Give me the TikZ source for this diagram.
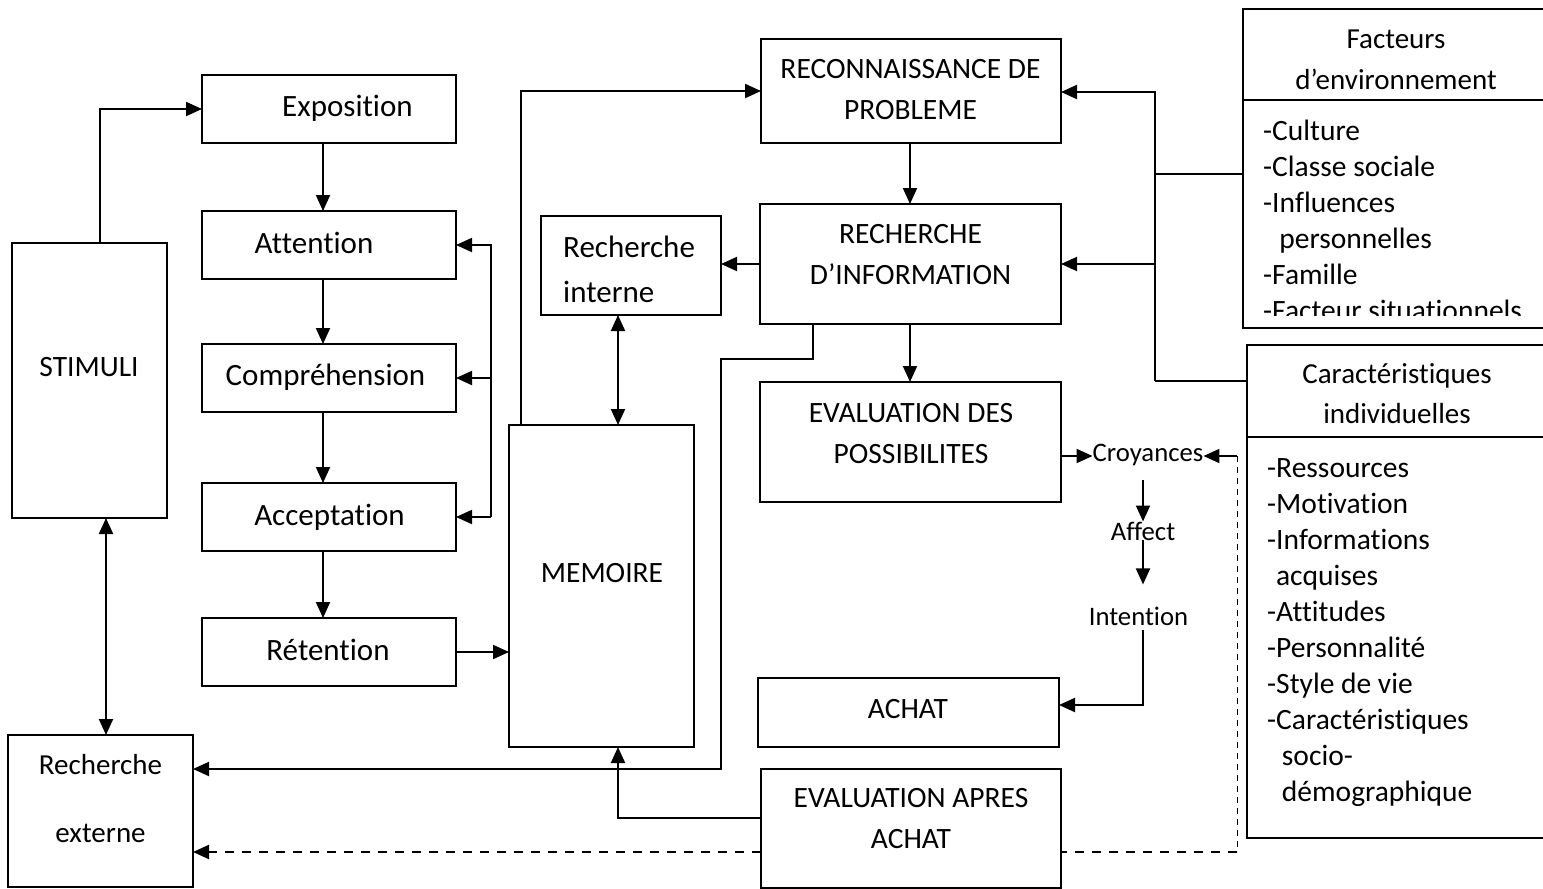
\documentclass[tikz,border=0pt]{standalone}
\usepackage{fontspec}
\setmainfont{Carlito}[Ligatures=NoCommon]
\usetikzlibrary{arrows.meta,backgrounds}
\newcommand{\FontBig}{\fontsize{31}{41}\selectfont}
\newcommand{\FontCap}{\fontsize{29.5}{41}\selectfont}
\newcommand{\FontSmall}{\fontsize{26.7}{32}\selectfont}
\begin{document}
\begin{tikzpicture}[x=1pt,y=-1pt,
  box/.style={draw, line width=1.8pt, fill=white, inner sep=0pt, outer sep=0pt},
  lbl/.style={inner sep=0pt, anchor=base, font=\FontBig},
  caplbl/.style={inner sep=0pt, anchor=base, font=\FontCap},
  capml/.style={inner sep=0pt, align=center, font=\fontsize{29.5}{41}\selectfont},
  sml/.style={inner sep=0pt, anchor=base, font=\FontSmall},
  lst/.style={inner sep=0pt, anchor=west, align=left, font=\fontsize{29.5}{36}\selectfont},
  mytip/.tip={Triangle[length=16pt,width=14pt]},
  arr/.style={line width=2pt, -mytip},
  arrr/.style={line width=2pt, mytip-mytip},
  conn/.style={line width=2pt},
]
\useasboundingbox (0,0) rectangle (1543,889);

% ---------- boxes ----------
\node[box, minimum width=254pt, minimum height=68pt] (expo) at (329,109) {};
\node[box, minimum width=254pt, minimum height=68pt] (att)  at (329,245) {};
\node[box, minimum width=254pt, minimum height=68pt] (comp) at (329,378) {};
\node[box, minimum width=254pt, minimum height=68pt] (acc)  at (329,517) {};
\node[box, minimum width=254pt, minimum height=68pt] (ret)  at (329,652) {};
\node[box, minimum width=155pt, minimum height=275pt] (stim) at (89.5,380.5) {};
\node[box, minimum width=185pt, minimum height=152pt] (rext) at (100.5,811) {};
\node[box, minimum width=185pt, minimum height=322pt] (mem) at (601.5,586) {};
\node[box, minimum width=180pt, minimum height=99pt] (rint) at (631,265.5) {};
\node[box, minimum width=300pt, minimum height=104pt] (recon) at (911,91) {};
\node[box, minimum width=301pt, minimum height=120pt] (rech) at (910.5,264) {};
\node[box, minimum width=301pt, minimum height=120pt] (evald) at (910.5,442) {};
\node[box, minimum width=301pt, minimum height=69pt] (achat) at (908.5,712.5) {};
\node[box, minimum width=300pt, minimum height=119pt] (evala) at (911,828.5) {};
\node[box, minimum width=303pt, minimum height=319pt] (fact) at (1394.5,168.5) {};
\node[box, minimum width=299pt, minimum height=493pt] (cara) at (1396.5,591.5) {};
\draw[line width=1.8pt] (fact.west |- 0,100) -- (fact.east |- 0,100);
\draw[line width=1.8pt] (cara.west |- 0,437) -- (cara.east |- 0,437);

% ---------- texts ----------
\node[lbl] (expoT) at (347.5,116) {Exposition};
\node[lbl] (attT)  at (314,253) {Attention};
\node[lbl] (compT) at (325.5,385) {Compréhension};
\node[lbl] (accT)  at (329.5,525) {Acceptation};
\node[lbl] (retT)  at (328,660) {Rétention};
\node[caplbl] (stimT) at (89,376) {STIMULI};
\node[caplbl] (memT)  at (602,582) {MEMOIRE};
\node[caplbl] (achatT) at (908,718) {ACHAT};
\node[inner sep=0pt, anchor=west, align=left, font=\fontsize{31}{45}\selectfont] (rintT) at (563,270.5) {\strut Recherche\\\strut interne};
\node[inner sep=0pt, align=center, font=\fontsize{29}{68}\selectfont] (rextT) at (100.5,794.4) {\strut Recherche\\\strut externe};
\node[capml] (reconT) at (910.5,90.3) {\strut RECONNAISSANCE DE\\\strut PROBLEME};
\node[capml] (rechT) at (910.5,255.3) {\strut RECHERCHE\\\strut D’INFORMATION};
\node[capml] (evaldT) at (911,434.3) {\strut EVALUATION DES\\\strut POSSIBILITES};
\node[capml] (evalaT) at (911,819.3) {\strut EVALUATION APRES\\\strut ACHAT};
\node[capml, font=\fontsize{29}{41}\selectfont] (factT) at (1396,60.3) {\strut Facteurs\\\strut d’environnement};
\node[capml, font=\fontsize{29}{40}\selectfont] (caraT) at (1397,395) {\strut Caractéristiques\\\strut individuelles};
\begin{scope}
  \clip (1245,101) rectangle (1545,315);
  \node[lst] (factL) at (1263,222.8) {\strut -Culture\\\strut -Classe sociale\\\strut -Influences\\\strut\hspace*{0.55em}personnelles\\\strut -Famille\\\strut -Facteur situationnels};
\end{scope}
\node[lst] (caraL) at (1267,631.8) {\strut -Ressources\\\strut -Motivation\\\strut -Informations\\\strut\hspace*{0.3em}acquises\\\strut -Attitudes\\\strut -Personnalité\\\strut -Style de vie\\\strut -Caractéristiques\\\strut\hspace*{0.5em}socio-\\\strut\hspace*{0.5em}démographique};
\node[sml] (croy) at (1148,461) {Croyances};
\node[sml] (aff)  at (1143,540) {Affect};
\node[sml] (int)  at (1138.5,625) {Intention};

% ---------- connectors ----------
\draw[arr] (stim.north -| 100,0) |- (expo.west);
\draw[arr] (expo.south -| 323,0) -- (att.north -| 323,0);
\draw[arr] (att.south -| 323,0) -- (comp.north -| 323,0);
\draw[arr] (comp.south -| 323,0) -- (acc.north -| 323,0);
\draw[arr] (acc.south -| 323,0) -- (ret.north -| 323,0);
\coordinate (fbb) at (491,517);
\draw[arr] (fbb) -- (fbb |- att.east) -- (att.east);
\draw[arr] (fbb |- comp.east) -- (comp.east);
\draw[arr] (fbb) -- (acc.east);
\draw[arr] (ret.east) -- (mem.west |- ret.east);
\draw[arr] (mem.north -| 521,0) |- (recon.west);
\draw[arrr] (rint.south -| 618,0) -- (mem.north -| 618,0);
\draw[arr] (rech.west) -- (rint.east |- rech.west);
\draw[arr] (recon.south -| 910,0) -- (rech.north -| 910,0);
\draw[arr] (rech.south -| 910,0) -- (evald.north -| 910,0);
\draw[arr] (rech.south -| 813,0) -- (813,359) -- (721,359) -- (721,769) -- (rext.east |- 0,769);
\draw[arr] (evald.east |- 0,456) -- (croy.west |- 0,456);
\draw[arr, shorten <=14pt] (croy.south -| 1143,0) -- (aff.north -| 1143,0);
\draw[arr, shorten >=22pt] (aff.south -| 1143,0) -- (int.north -| 1143,0);
\draw[arr, shorten <=5pt] (int.south -| 1143,0) |- (achat.east |- 0,705);
\draw[arr] (evala.west |- 0,818) -| (mem.south -| 618,0);
\draw[arrr] (stim.south -| 106,0) -- (rext.north -| 106,0);
\coordinate (bust) at (1155,92);
\coordinate (busb) at (1155,381);
\draw[conn] (fact.west |- 0,174) -- (bust |- 0,174);
\draw[conn] (cara.west |- busb) -- (busb);
\draw[arr] (busb) -- (bust) -- (recon.east |- bust);
\draw[arr] (bust |- rech.east) -- (rech.east);
\coordinate (dtop) at (1237,456);
\coordinate (dbot) at (1237,852);
\draw[arr] (dtop) -- (croy.east |- dtop);
\draw[line width=1pt, dash pattern=on 6pt off 5pt] (dtop) -- (dbot);
\begin{scope}[on background layer]
\draw[arr, dash pattern=on 9pt off 8pt] (dbot) -- (rext.east |- dbot);
\end{scope}
\end{tikzpicture}
\end{document}
